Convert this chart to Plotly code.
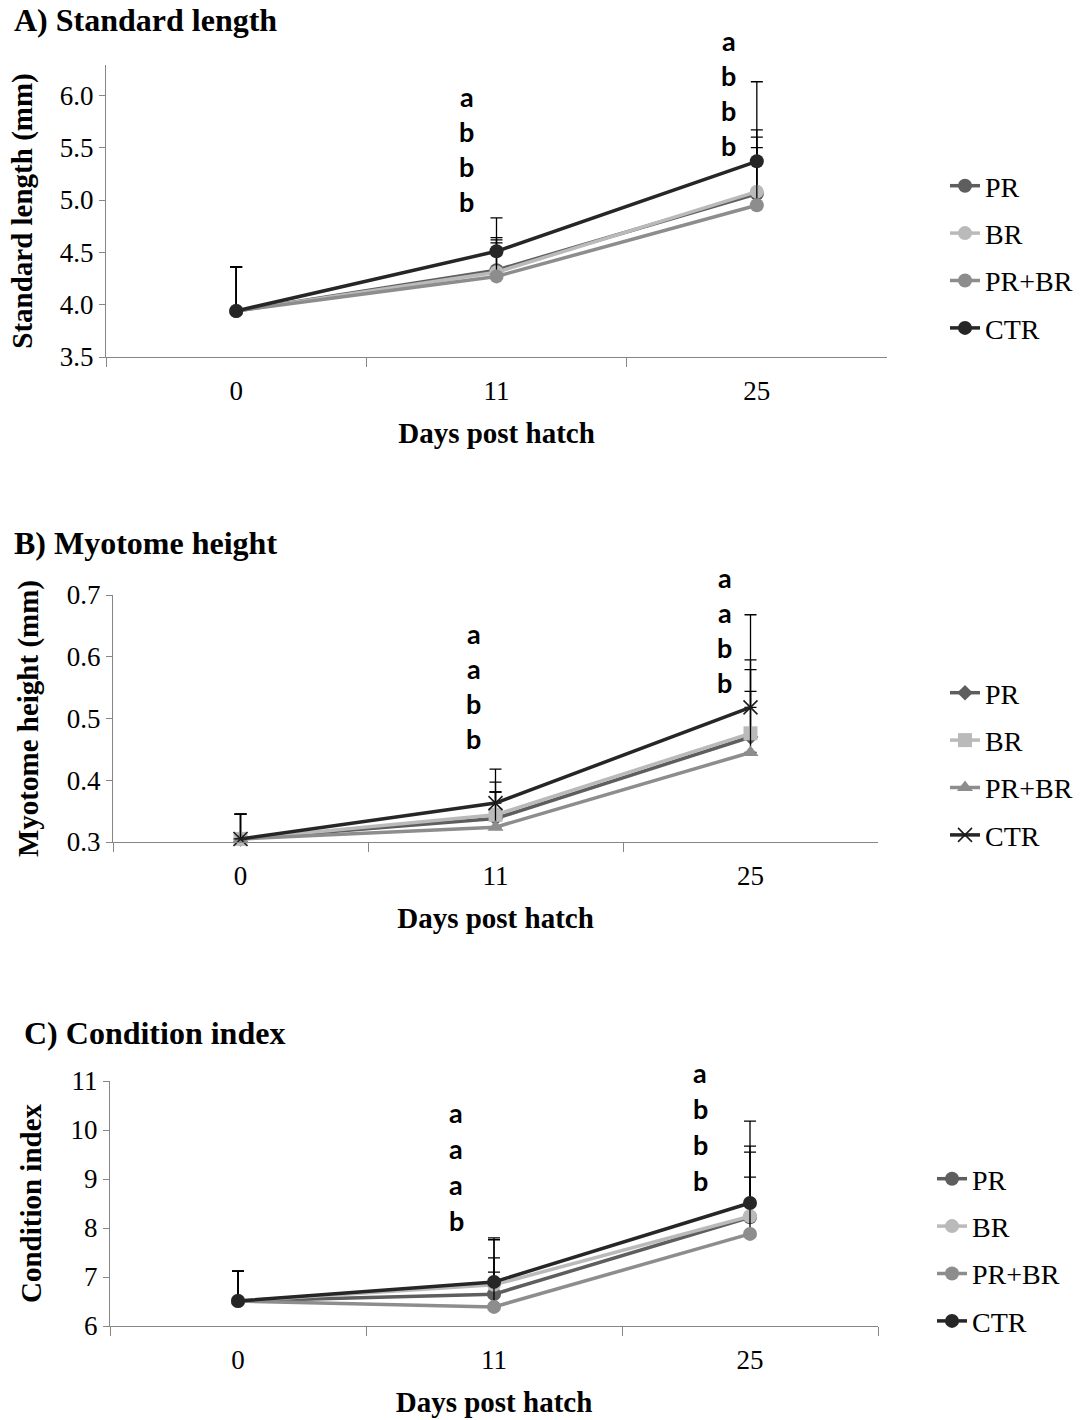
import plotly.graph_objects as go

days = ["0", "11", "25"]
series = ["PR", "BR", "PR+BR", "CTR"]

# A) Standard length (mm)
sl_PR = [3.94, 4.33, 5.06]
sl_BR = [3.94, 4.31, 5.08]
sl_PRBR = [3.94, 4.27, 4.95]
sl_CTR = [3.94, 4.51, 5.37]
sl_err_PR = [0.42, 0.31, 0.61]
sl_err_BR = [0.42, 0.31, 0.52]
sl_err_PRBR = [0.42, 0.32, 0.55]
sl_err_CTR = [0.42, 0.32, 0.76]

# B) Myotome height (mm)
mh_PR = [0.305, 0.338, 0.470]
mh_BR = [0.305, 0.344, 0.476]
mh_PRBR = [0.305, 0.324, 0.445]
mh_CTR = [0.305, 0.363, 0.518]
mh_err_PR = [0.040, 0.043, 0.109]
mh_err_BR = [0.040, 0.053, 0.119]
mh_err_PRBR = [0.040, 0.057, 0.099]
mh_err_CTR = [0.040, 0.055, 0.150]

# C) Condition index
ci_PR = [6.51, 6.65, 8.22]
ci_BR = [6.51, 6.84, 8.24]
ci_PRBR = [6.51, 6.39, 7.88]
ci_CTR = [6.51, 6.90, 8.51]
ci_err_PR = [0.61, 0.74, 1.33]
ci_err_BR = [0.61, 0.92, 1.43]
ci_err_PRBR = [0.61, 0.71, 1.16]
ci_err_CTR = [0.61, 0.90, 1.67]

# significance letters (top to bottom) at day 11 and day 25
letters_A = {"11": ["a", "b", "b", "b"], "25": ["a", "b", "b", "b"]}
letters_B = {"11": ["a", "a", "b", "b"], "25": ["a", "a", "b", "b"]}
letters_C = {"11": ["a", "a", "a", "b"], "25": ["a", "b", "b", "b"]}

colors = {"PR": "#5e5e5e", "BR": "#bababa", "PR+BR": "#8d8d8d", "CTR": "#262626"}
W, H = 1085, 1420
SERIF = "Liberation Serif"


def px_x(p):
    return p / W


def px_y(p):
    return 1 - p / H


fig = go.Figure()

panels = [
    dict(ax="", vals=[sl_PR, sl_BR, sl_PRBR, sl_CTR],
         errs=[sl_err_PR, sl_err_BR, sl_err_PRBR, sl_err_CTR],
         symbols=["circle"] * 4, legend="legend"),
    dict(ax="2", vals=[mh_PR, mh_BR, mh_PRBR, mh_CTR],
         errs=[mh_err_PR, mh_err_BR, mh_err_PRBR, mh_err_CTR],
         symbols=["diamond", "square", "triangle-up", "x-thin"], legend="legend2"),
    dict(ax="3", vals=[ci_PR, ci_BR, ci_PRBR, ci_CTR],
         errs=[ci_err_PR, ci_err_BR, ci_err_PRBR, ci_err_CTR],
         symbols=["circle"] * 4, legend="legend3"),
]

for p in panels:
    for name, v, e, sym in zip(series, p["vals"], p["errs"], p["symbols"]):
        c = colors[name]
        if sym == "x-thin":
            marker = dict(symbol=sym, size=14, color=c, line=dict(color="#1a1a1a", width=1.5))
        elif sym == "diamond":
            marker = dict(symbol=sym, size=12, color=c)
        else:
            marker = dict(symbol=sym, size=14, color=c)
        fig.add_trace(go.Scatter(
            x=days, y=v, name=name, mode="lines+markers",
            line=dict(color=c, width=3.5), marker=marker,
            error_y=dict(type="data", array=e, arrayminus=[0] * len(e), symmetric=False,
                         color="black", thickness=1.3, width=6),
            xaxis="x" + p["ax"], yaxis="y" + p["ax"], legend=p["legend"],
            legendgroup=p["legend"] + name, cliponaxis=False,
        ))

axis_grey = "#868686"
tickfont = dict(family=SERIF, size=27, color="black")
titlefont = dict(family=SERIF, size=29, color="black")


def xaxis(dom, anchor, standoff):
    return dict(domain=dom, anchor=anchor, type="category", categoryarray=days,
                range=[-0.5, 2.5], tickson="boundaries", ticks="outside", ticklen=9,
                tickcolor=axis_grey, showline=True, linecolor=axis_grey, linewidth=1.3,
                showgrid=False, zeroline=False, tickfont=tickfont, ticklabelstandoff=9,
                automargin=False,
                title=dict(text="<b>Days post hatch</b>", font=titlefont, standoff=standoff))


def yaxis(dom, anchor, rng, dtick, fmt, title, standoff):
    return dict(domain=dom, anchor=anchor, range=rng, dtick=dtick, tick0=rng[0],
                tickformat=fmt, ticks="outside", ticklen=6, tickcolor=axis_grey,
                showline=True, linecolor=axis_grey, linewidth=1.3, showgrid=False,
                zeroline=False, tickfont=tickfont, automargin=False,
                title=dict(text="<b>" + title + "</b>", font=titlefont, standoff=standoff))


fig.update_layout(
    xaxis=xaxis([px_x(106), px_x(887)], "y", 18),
    yaxis=yaxis([px_y(357), px_y(65)], "x", [3.5, 6.29], 0.5, ".1f", "Standard length (mm)", 18),
    xaxis2=xaxis([px_x(113), px_x(878)], "y2", 18),
    yaxis2=yaxis([px_y(842), px_y(595)], "x2", [0.3, 0.7], 0.1, ".1f", "Myotome height (mm)", 19),
    xaxis3=xaxis([px_x(110), px_x(878)], "y3", 18),
    yaxis3=yaxis([px_y(1326), px_y(1081)], "x3", [6, 11], 1, "d", "Condition index", 20),
)

legend_common = dict(font=dict(family=SERIF, size=28, color="black"), tracegroupgap=8,
                     xanchor="left", yanchor="middle", bgcolor="rgba(0,0,0,0)", itemwidth=30)
fig.update_layout(
    legend=dict(x=px_x(945), y=px_y(257), **legend_common),
    legend2=dict(x=px_x(945), y=px_y(764), **legend_common),
    legend3=dict(x=px_x(932), y=px_y(1250), **legend_common),
)

# panel titles
ann = []
for text, xp, yp in [("A) Standard length", 12, 20), ("B) Myotome height", 12, 543),
                     ("C) Condition index", 22, 1033)]:
    ann.append(dict(text="<b>" + text + "</b>", x=px_x(xp), y=px_y(yp), xref="paper", yref="paper",
                    xanchor="left", yanchor="middle", showarrow=False,
                    font=dict(family=SERIF, size=32, color="black")))

# significance letters
letter_specs = [
    ("", letters_A, {"11": (-30, 4.99), "25": (-28, 5.52)}, 35),
    ("2", letters_B, {"11": (-22, 0.467), "25": (-26, 0.559)}, 35),
    ("3", letters_C, {"11": (-38, 8.16), "25": (-50, 8.96)}, 36),
]
for axs, letters, pos, gap in letter_specs:
    for day, lst in letters.items():
        xs, ybase = pos[day]
        for i, L in enumerate(reversed(lst)):
            ann.append(dict(text="<b>" + L + "</b>", x=days.index(day), y=ybase,
                            xref="x" + axs, yref="y" + axs,
                            xshift=xs, yshift=i * gap, showarrow=False,
                            xanchor="center", yanchor="middle",
                            font=dict(family="Lato, Liberation Sans", size=27, color="black")))

fig.update_layout(annotations=ann, width=W, height=H, margin=dict(l=0, r=0, t=0, b=0),
                  paper_bgcolor="white", plot_bgcolor="white", showlegend=True)

fig.write_html("out.html")
